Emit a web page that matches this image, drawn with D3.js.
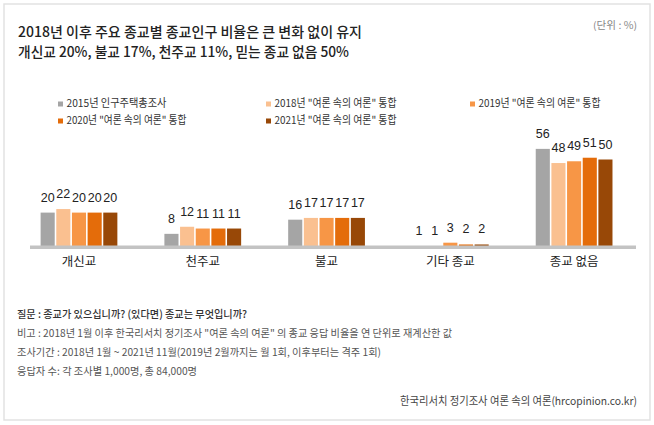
<!DOCTYPE html>
<html>
<head>
<meta charset="utf-8">
<script src="https://cdn.jsdelivr.net/npm/d3@7"></script>
<style>
  body { margin: 0; background: #fff; }
  svg { display: block; font-family: "Noto Sans CJK KR", "Noto Sans", sans-serif; }
  .num { font-family: "Liberation Sans", Arial, sans-serif; }
</style>
</head>
<body>
<div id="chart"></div>
<script>
const categories = ['개신교', '천주교', '불교', '기타 종교', '종교 없음'];
const seriesNames = [
  '2015년 인구주택총조사',
  '2018년 "여론 속의 여론" 통합',
  '2019년 "여론 속의 여론" 통합',
  '2020년 "여론 속의 여론" 통합',
  '2021년 "여론 속의 여론" 통합'
];
const v2015 = [20, 8, 16, 1, 56];
const v2018 = [22, 12, 17, 1, 48];
const v2019 = [20, 11, 17, 3, 49];
const v2020 = [20, 11, 17, 2, 51];
const v2021 = [20, 11, 17, 2, 50];
const seriesValues = [v2015, v2018, v2019, v2020, v2021];
const colors = ['#a5a5a5', '#fac090', '#f79646', '#e46c0a', '#984807'];

const titleLines = [
  '2018년 이후 주요 종교별 종교인구 비율은 큰 변화 없이 유지',
  '개신교 20%, 불교 17%, 천주교 11%, 믿는 종교 없음 50%'
];
const unitText = '(단위 : %)';
const notes = [
  '질문 : 종교가 있으십니까? (있다면) 종교는 무엇입니까?',
  '비고 : 2018년 1월 이후 한국리서치 정기조사 "여론 속의 여론" 의 종교 응답 비율을 연 단위로 재계산한 값',
  '조사기간 : 2018년 1월 ~ 2021년 11월(2019년 2월까지는 월 1회, 이후부터는 격주 1회)',
  '응답자 수: 각 조사별 1,000명, 총 84,000명'
];
const sourceText = '한국리서치 정기조사 여론 속의 여론(hrcopinion.co.kr)';

const W = 654, H = 425;
const BASE_Y = 248;

const svg = d3.select('#chart').append('svg')
  .attr('width', W)
  .attr('height', H);

// frame
svg.append('rect')
  .attr('x', 4).attr('y', 4)
  .attr('width', 646).attr('height', 416)
  .attr('fill', '#fff')
  .attr('stroke', '#e2e2e2')
  .attr('stroke-width', 1.5);

// title
const titleWidths = [344, 331];
svg.selectAll('.title')
  .data(titleLines)
  .enter().append('text')
  .attr('class', 'title')
  .attr('x', 18)
  .attr('y', (d, i) => 36.5 + i * 20)
  .attr('font-size', 14)
  .attr('font-weight', 500)
  .attr('fill', '#222')
  .attr('textLength', (d, i) => titleWidths[i])
  .attr('lengthAdjust', 'spacingAndGlyphs')
  .text(d => d);

svg.append('text')
  .attr('x', 637)
  .attr('y', 29)
  .attr('text-anchor', 'end')
  .attr('font-size', 10)
  .attr('fill', '#888')
  .attr('textLength', 44)
  .attr('lengthAdjust', 'spacingAndGlyphs')
  .text(unitText);

// legend
const legendPos = [
  { x: 58, y: 101.5, w: 100 },
  { x: 266, y: 101.5, w: 122 },
  { x: 470, y: 101.5, w: 122 },
  { x: 58, y: 118.5, w: 120 },
  { x: 266, y: 118.5, w: 122 }
];
const legend = svg.append('g').attr('class', 'legend');
const li = legend.selectAll('g')
  .data(seriesNames)
  .enter().append('g')
  .attr('transform', (d, i) => `translate(${legendPos[i].x}, ${legendPos[i].y})`);
li.append('rect')
  .attr('width', 5).attr('height', 5)
  .attr('fill', (d, i) => colors[i]);
li.append('text')
  .attr('x', 8.5)
  .attr('y', 5)
  .attr('font-size', 11)
  .attr('fill', '#333')
  .attr('textLength', (d, i) => legendPos[i].w)
  .attr('lengthAdjust', 'spacingAndGlyphs')
  .text(d => d);

// scales
const x0 = d3.scaleBand()
  .domain(categories)
  .range([17.1, 636])
  .paddingInner(0.38)
  .paddingOuter(0.19);

const x1 = d3.scaleBand()
  .domain(d3.range(seriesNames.length))
  .range([0, x0.bandwidth()])
  .paddingInner(0.1);

const y = d3.scaleLinear()
  .domain([0, 60])
  .range([BASE_Y, BASE_Y - 106.2]);

const groups = svg.append('g')
  .selectAll('g')
  .data(categories)
  .enter().append('g')
  .attr('transform', d => `translate(${x0(d)}, 0)`);

groups.selectAll('rect')
  .data((d, ci) => seriesValues.map((vals, si) => ({ si, v: vals[ci] })))
  .enter().append('rect')
  .attr('x', d => x1(d.si))
  .attr('y', d => y(d.v))
  .attr('width', x1.bandwidth())
  .attr('height', d => y(0) - y(d.v))
  .attr('fill', d => colors[d.si]);

groups.selectAll('.num')
  .data((d, ci) => seriesValues.map((vals, si) => ({ si, v: vals[ci] })))
  .enter().append('text')
  .attr('class', 'num')
  .attr('x', d => x1(d.si) + x1.bandwidth() / 2)
  .attr('y', d => y(d.v) - 11)
  .attr('text-anchor', 'middle')
  .attr('font-size', 12.5)
  .attr('fill', '#222')
  .text(d => d.v);

// baseline
svg.append('rect')
  .attr('x', 30)
  .attr('y', 245.5)
  .attr('width', 606)
  .attr('height', 3.5)
  .attr('fill', '#c3c3c3');

// category labels
const xAxis = d3.axisBottom(x0).tickSize(0).tickPadding(0);
const axisG = svg.append('g')
  .attr('transform', `translate(0, 256)`)
  .call(xAxis);
axisG.select('.domain').remove();
axisG.selectAll('text')
  .attr('font-family', '"Noto Sans CJK KR", sans-serif')
  .attr('font-size', 12.5)
  .attr('fill', '#222')
  .attr('dy', '0.8em');

// notes
const noteWidths = [230, 435, 364, 180];
svg.selectAll('.note')
  .data(notes)
  .enter().append('text')
  .attr('class', 'note')
  .attr('x', 17)
  .attr('y', (d, i) => 318 + i * 19)
  .attr('font-size', 10.5)
  .attr('fill', (d, i) => i === 0 ? '#333' : '#555')
  .attr('font-weight', (d, i) => i === 0 ? 500 : 400)
  .attr('textLength', (d, i) => noteWidths[i])
  .attr('lengthAdjust', 'spacingAndGlyphs')
  .text(d => d);

svg.append('text')
  .attr('x', 637)
  .attr('y', 405)
  .attr('text-anchor', 'end')
  .attr('font-size', 11)
  .attr('fill', '#444')
  .attr('textLength', 237)
  .attr('lengthAdjust', 'spacingAndGlyphs')
  .text(sourceText);
</script>
</body>
</html>
